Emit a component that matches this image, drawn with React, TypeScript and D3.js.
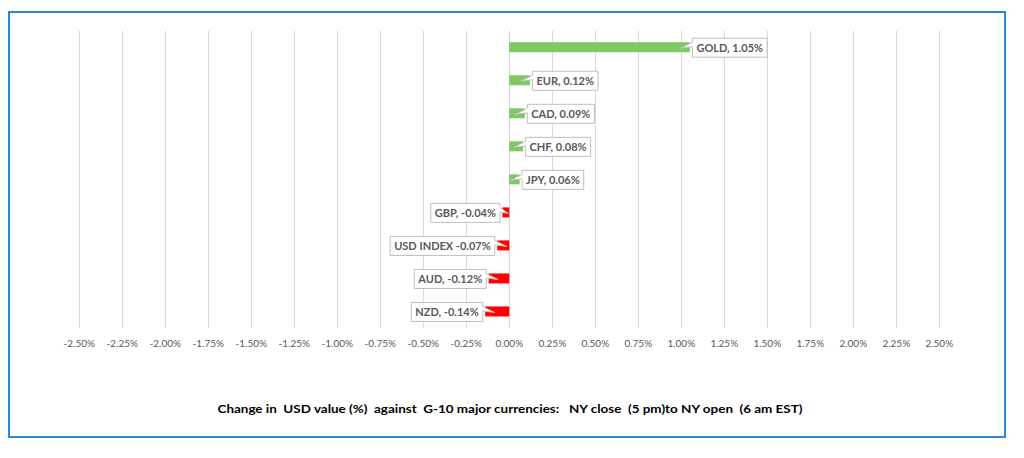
import React, { useEffect, useRef } from "react";
import * as d3 from "d3";

const categories = ["GOLD", "EUR", "CAD", "CHF", "JPY", "GBP", "USD INDEX", "AUD", "NZD"];
const values = [1.05, 0.12, 0.09, 0.08, 0.06, -0.04, -0.07, -0.12, -0.14];
const labels = [
  "GOLD, 1.05%",
  "EUR, 0.12%",
  "CAD, 0.09%",
  "CHF, 0.08%",
  "JPY, 0.06%",
  "GBP, -0.04%",
  "USD INDEX -0.07%",
  "AUD, -0.12%",
  "NZD, -0.14%",
];
const tickValues = [
  -2.5, -2.25, -2.0, -1.75, -1.5, -1.25, -1.0, -0.75, -0.5, -0.25, 0,
  0.25, 0.5, 0.75, 1.0, 1.25, 1.5, 1.75, 2.0, 2.25, 2.5,
];
const title =
  "Change in  USD value (%)  against  G-10 major currencies:   NY close  (5 pm)to NY open  (6 am EST)";

const W = 1024;
const H = 458;
const FONT = "Lato, 'Open Sans', sans-serif";

export default function App() {
  const ref = useRef<SVGSVGElement | null>(null);

  useEffect(() => {
    const svg = d3.select(ref.current);
    svg.selectAll("*").remove();

    const x = d3.scaleLinear().domain([-2.5, 2.5]).range([79.3, 939.3]);
    const y = d3
      .scaleBand<string>()
      .domain(categories)
      .range([30.7, 328])
      .paddingInner(0.7)
      .paddingOuter(0.35);

    // border
    svg
      .append("rect")
      .attr("x", 9)
      .attr("y", 12)
      .attr("width", 996)
      .attr("height", 425)
      .attr("fill", "white")
      .attr("stroke", "#2F87D3")
      .attr("stroke-width", 2);

    // gridlines
    svg
      .append("g")
      .selectAll("line")
      .data(tickValues)
      .join("line")
      .attr("x1", (d) => Math.round(x(d)) + 0.5)
      .attr("x2", (d) => Math.round(x(d)) + 0.5)
      .attr("y1", 30.7)
      .attr("y2", 328)
      .attr("stroke", "#D9D9D9")
      .attr("stroke-width", 1);

    // tick labels
    const fmt = d3.format(".2f");
    svg
      .append("g")
      .selectAll("text")
      .data(tickValues)
      .join("text")
      .attr("x", (d) => x(d))
      .attr("y", 343)
      .attr("dy", "0.35em")
      .attr("text-anchor", "middle")
      .attr("font-family", FONT)
      .attr("font-size", 10)
      .attr("fill", "#595959")
      .text((d) => fmt(d).replace("\u2212", "-") + "%");

    // bars
    const bh = 10;
    svg
      .append("g")
      .selectAll("rect")
      .data(categories)
      .join("rect")
      .attr("x", (d, i) => Math.min(x(0), x(values[i])))
      .attr("width", (d, i) => Math.abs(x(values[i]) - x(0)))
      .attr("y", (d) => y(d)! + y.bandwidth() / 2 - bh / 2)
      .attr("height", bh)
      .attr("fill", (d, i) => (values[i] >= 0 ? "#80C863" : "#FF0000"));

    // callout labels
    const lg = svg.append("g");
    categories.forEach((c, i) => {
      const v = values[i];
      const cy = y(c)! + y.bandwidth() / 2;
      const end = x(v);
      const barLen = Math.abs(end - x(0));
      const g = lg.append("g");
      const path = g.append("path");
      const t = g
        .append("text")
        .attr("font-family", FONT)
        .attr("font-size", 11)
        .attr("font-weight", "bold")
        .attr("fill", "#595959")
        .attr("dy", "0.36em")
        .attr("y", cy + 0.5)
        .text(labels[i]);
      const tw = (t.node() as SVGTextElement).getComputedTextLength();
      const pad = 4;
      const w = tw + pad * 2;
      const h = 19;
      const by = cy - h / 2 + 0.5;
      const gap = 2.5;
      const tipLen = Math.min(12, barLen + gap - 1);
      let d: string;
      if (v >= 0) {
        const bx = end + gap;
        t.attr("x", bx + pad);
        d = `M${bx},${by} H${bx + w} V${by + h} H${bx} V${by + h * 0.45} L${bx - tipLen},${cy + 1} L${bx},${by + h * 0.22} Z`;
      } else {
        const br = end - gap;
        const bx = br - w;
        t.attr("x", bx + pad);
        d = `M${br},${by} H${bx} V${by + h} H${br} V${by + h * 0.45} L${br + tipLen},${cy + 1} L${br},${by + h * 0.22} Z`;
      }
      path
        .attr("d", d)
        .attr("fill", "white")
        .attr("stroke", "#BFBFBF")
        .attr("stroke-width", 1);
    });

    // title
    svg
      .append("text")
      .attr("x", 510)
      .attr("y", 409)
      .attr("dy", "0.35em")
      .attr("text-anchor", "middle")
      .attr("font-family", FONT)
      .attr("font-size", 12)
      .attr("font-weight", "bold")
      .attr("fill", "#000")
      .attr("textLength", 585)
      .attr("lengthAdjust", "spacingAndGlyphs")
      .style("white-space", "pre")
      .text(title);
  }, []);

  return (
    <svg
      ref={ref}
      width={W}
      height={H}
      style={{ position: "absolute", left: 0, top: 0, background: "white" }}
    />
  );
}
